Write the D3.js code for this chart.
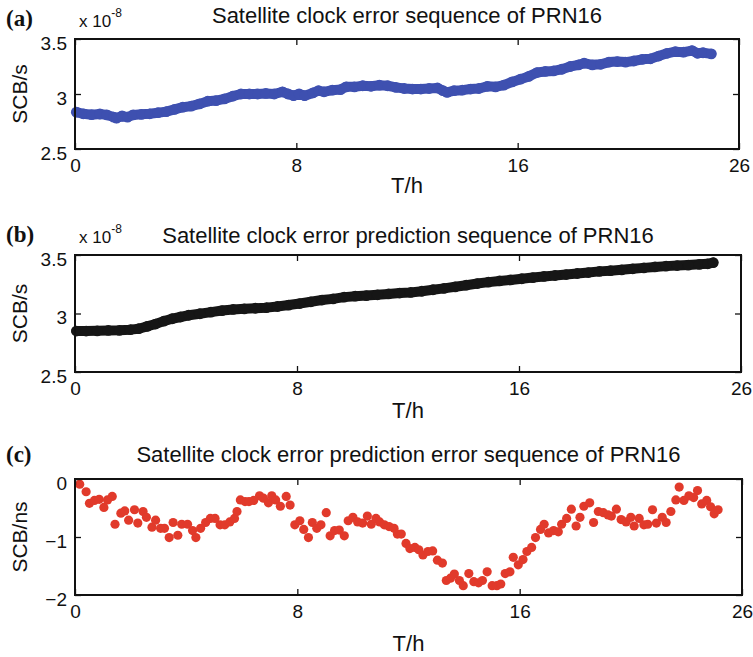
<!DOCTYPE html>
<html>
<head>
<meta charset="utf-8">
<script src="https://cdn.jsdelivr.net/npm/d3@7"></script>
<style>
  body { margin: 0; background: #fff; }
  svg { display: block; }
  text { font-family: "Liberation Sans", Arial, sans-serif; fill: #111; }
</style>
</head>
<body>
<svg id="chart" width="753" height="657"></svg>
<script>
// x axis: hours, the last tick is labelled 26 in the original figure
var xTicks = [0, 8, 16, 24];
var xTickLabels = ["0", "8", "16", "26"];

// (a) satellite clock error, units of 1e-8 s
var clockTimes = [0.05, 0.3, 0.6, 0.9, 1.15, 1.4, 1.5, 1.7, 1.9, 2.1, 2.4, 2.7, 3.0, 3.3, 3.6, 3.9,
  4.2, 4.5, 4.8, 5.1, 5.4, 5.7, 6.0, 6.3, 6.6, 6.9, 7.2, 7.5, 7.7, 7.9, 8.1, 8.3, 8.6, 8.8, 9.0,
  9.3, 9.6, 9.8, 10.1, 10.4, 10.7, 11.0, 11.3, 11.6, 11.9, 12.2, 12.5, 12.8, 13.1, 13.3, 13.45,
  13.7, 14.0, 14.3, 14.6, 14.9, 15.2, 15.5, 15.8, 16.1, 16.4, 16.7, 17.0, 17.3, 17.6, 17.9, 18.2,
  18.4, 18.7, 19.0, 19.3, 19.6, 19.9, 20.2, 20.5, 20.8, 21.1, 21.4, 21.7, 22.0, 22.3, 22.5, 22.7, 23.0];
var clockValues = [2.835, 2.82, 2.812, 2.818, 2.81, 2.79, 2.78, 2.80, 2.79, 2.81, 2.815, 2.82, 2.83,
  2.84, 2.86, 2.88, 2.89, 2.91, 2.935, 2.94, 2.955, 2.98, 3.0, 3.0, 3.0, 3.005, 3.0, 3.02, 3.0, 2.985,
  3.0, 2.985, 3.01, 3.03, 3.02, 3.035, 3.04, 3.065, 3.065, 3.075, 3.07, 3.08, 3.075, 3.06, 3.05,
  3.045, 3.045, 3.05, 3.055, 3.03, 3.015, 3.03, 3.035, 3.045, 3.05, 3.07, 3.065, 3.08, 3.11, 3.135,
  3.16, 3.195, 3.205, 3.21, 3.225, 3.25, 3.265, 3.28, 3.265, 3.27, 3.29, 3.295, 3.29, 3.30, 3.315,
  3.32, 3.345, 3.37, 3.385, 3.38, 3.395, 3.37, 3.375, 3.365];

// (b) predicted clock error, units of 1e-8 s
var predTimes = [0.05, 0.4, 0.8, 1.2, 1.6, 2.0, 2.3, 2.6, 2.9, 3.2, 3.5, 3.8, 4.1, 4.5, 4.9, 5.3, 5.7,
  6.1, 6.5, 6.9, 7.3, 7.7, 8.1, 8.5, 8.9, 9.3, 9.7, 10.1, 10.5, 10.9, 11.3, 11.7, 12.1, 12.5, 12.9,
  13.3, 13.7, 14.1, 14.5, 14.9, 15.3, 15.7, 16.1, 16.5, 16.9, 17.3, 17.7, 18.1, 18.5, 18.9, 19.3,
  19.7, 20.1, 20.5, 20.9, 21.3, 21.7, 22.1, 22.5, 22.8, 23.0];
var predValues = [2.85, 2.85, 2.852, 2.855, 2.856, 2.862, 2.87, 2.89, 2.91, 2.935, 2.955, 2.97, 2.985,
  2.998, 3.012, 3.025, 3.035, 3.04, 3.045, 3.05, 3.06, 3.072, 3.085, 3.10, 3.115, 3.125, 3.14, 3.148,
  3.153, 3.16, 3.167, 3.175, 3.18, 3.19, 3.203, 3.215, 3.228, 3.242, 3.256, 3.268, 3.278, 3.287,
  3.297, 3.307, 3.317, 3.325, 3.333, 3.342, 3.35, 3.36, 3.366, 3.373, 3.382, 3.39, 3.398, 3.405,
  3.41, 3.414, 3.42, 3.425, 3.435];

// (c) prediction error, ns
var errTimes = [0.17, 0.40, 0.52, 0.70, 0.87, 1.04, 1.17, 1.34, 1.44, 1.65, 1.79, 1.93, 2.14, 2.26,
  2.45, 2.57, 2.77, 2.90, 3.08, 3.22, 3.39, 3.53, 3.70, 3.84, 4.05, 4.23, 4.35, 4.52, 4.70, 4.87,
  5.04, 5.22, 5.39, 5.57, 5.74, 5.83, 5.95, 6.12, 6.26, 6.43, 6.64, 6.78, 6.96, 7.08, 7.22, 7.39,
  7.60, 7.74, 7.91, 8.09, 8.23, 8.40, 8.54, 8.70, 8.85, 9.04, 9.18, 9.34, 9.51, 9.69, 9.83, 10.00,
  10.17, 10.35, 10.52, 10.66, 10.83, 10.96, 11.13, 11.30, 11.48, 11.60, 11.74, 11.91, 12.05, 12.23,
  12.37, 12.52, 12.70, 12.87, 13.04, 13.22, 13.36, 13.51, 13.65, 13.83, 13.97, 14.17, 14.35, 14.52,
  14.66, 14.83, 15.01, 15.18, 15.32, 15.48, 15.65, 15.77, 15.95, 16.12, 16.26, 16.43, 16.57, 16.75,
  16.88, 17.04, 17.22, 17.39, 17.51, 17.69, 17.86, 18.03, 18.17, 18.31, 18.52, 18.66, 18.83, 19.01,
  19.18, 19.30, 19.48, 19.65, 19.83, 20.00, 20.12, 20.30, 20.47, 20.61, 20.78, 20.92, 21.13, 21.27,
  21.44, 21.62, 21.74, 21.91, 22.09, 22.26, 22.40, 22.55, 22.73, 22.87, 23.00, 23.14];
var errValues = [-0.09, -0.22, -0.42, -0.37, -0.35, -0.49, -0.36, -0.30, -0.78, -0.59, -0.55, -0.71,
  -0.53, -0.76, -0.56, -0.66, -0.83, -0.71, -0.85, -0.85, -1.01, -0.75, -0.97, -0.78, -0.78, -0.89,
  -1.01, -0.85, -0.75, -0.68, -0.68, -0.79, -0.79, -0.74, -0.68, -0.56, -0.36, -0.39, -0.39, -0.37,
  -0.29, -0.33, -0.41, -0.29, -0.36, -0.47, -0.30, -0.45, -0.79, -0.72, -0.87, -1.01, -0.75, -0.85,
  -0.79, -0.58, -0.98, -0.89, -0.88, -0.98, -0.72, -0.66, -0.74, -0.76, -0.64, -0.78, -0.68, -0.74,
  -0.79, -0.82, -0.85, -0.95, -0.95, -1.11, -1.20, -1.18, -1.22, -1.31, -1.25, -1.24, -1.40, -1.45,
  -1.75, -1.71, -1.64, -1.75, -1.84, -1.63, -1.77, -1.79, -1.75, -1.60, -1.84, -1.84, -1.81, -1.63,
  -1.60, -1.35, -1.48, -1.39, -1.25, -1.18, -1.01, -0.87, -0.78, -0.93, -0.89, -0.91, -0.78, -0.68,
  -0.52, -0.81, -0.66, -0.47, -0.41, -0.75, -0.56, -0.58, -0.62, -0.64, -0.52, -0.70, -0.74, -0.66,
  -0.81, -0.68, -0.79, -0.78, -0.53, -0.76, -0.66, -0.75, -0.56, -0.36, -0.14, -0.37, -0.29, -0.32,
  -0.20, -0.43, -0.37, -0.48, -0.60, -0.53];

var svg = d3.select("#chart");

var panels = [
  { tag: "(a)", title: "Satellite clock error sequence of PRN16", ylab: "SCB/s", exp: true,
    times: clockTimes, values: clockValues, color: "#3e50b0", style: "band",
    yDomain: [2.5, 3.5], yTicks: [2.5, 3, 3.5], box: [75, 739, 39, 149],
    titleY: 23, tagY: 26, expY: 27, xlabY: 193 },
  { tag: "(b)", title: "Satellite clock error prediction sequence of PRN16", ylab: "SCB/s", exp: true,
    times: predTimes, values: predValues, color: "#161616", style: "band",
    yDomain: [2.5, 3.5], yTicks: [2.5, 3, 3.5], box: [75, 741, 255, 372],
    titleY: 243, tagY: 242, expY: 243, xlabY: 418 },
  { tag: "(c)", title: "Satellite clock error prediction error sequence of PRN16", ylab: "SCB/ns", exp: false,
    times: errTimes, values: errValues, color: "#e13a2b", style: "dots",
    yDomain: [-2, 0], yTicks: [-2, -1, 0], box: [75, 742, 479, 595],
    titleY: 462, tagY: 462, expY: 0, xlabY: 651 }
];

panels.forEach(drawPanel);

function drawPanel(p) {
  var left = p.box[0], right = p.box[1], top = p.box[2], bottom = p.box[3];
  var x = d3.scaleLinear().domain([0, 24]).range([left, right]);
  var y = d3.scaleLinear().domain(p.yDomain).range([bottom, top]);
  var pts = p.times.map(function(t, i) { return [t, p.values[i]]; });
  var g = svg.append("g");

  // data
  if (p.style === "band") {
    var line = d3.line()
      .x(function(d) { return x(d[0]); })
      .y(function(d) { return y(d[1]); });
    g.append("path")
      .datum(pts)
      .attr("d", line)
      .attr("fill", "none")
      .attr("stroke", p.color)
      .attr("stroke-width", 10)
      .attr("stroke-linejoin", "round")
      .attr("stroke-linecap", "round");
    g.selectAll("circle.m")
      .data(pts)
      .enter()
      .append("circle")
      .attr("class", "m")
      .attr("cx", function(d) { return x(d[0]); })
      .attr("cy", function(d) { return y(d[1]); })
      .attr("r", 5.4)
      .attr("fill", p.color);
  } else {
    g.selectAll("circle.m")
      .data(pts)
      .enter()
      .append("circle")
      .attr("class", "m")
      .attr("cx", function(d) { return x(d[0]); })
      .attr("cy", function(d) { return y(d[1]); })
      .attr("r", 4.6)
      .attr("fill", p.color);
  }

  // axes, ticks pointing inwards like matlab
  var fmtX = function(d, i) { return xTickLabels[i]; };
  g.append("g")
    .attr("transform", "translate(0," + bottom + ")")
    .call(d3.axisBottom(x).tickValues(xTicks).tickFormat(fmtX).tickSizeInner(-6).tickSizeOuter(0).tickPadding(10));
  g.append("g")
    .attr("transform", "translate(0," + top + ")")
    .call(d3.axisTop(x).tickValues(xTicks).tickFormat("").tickSizeInner(-6).tickSizeOuter(0));
  var leftAxis = g.append("g")
    .attr("transform", "translate(" + left + ",0)")
    .call(d3.axisLeft(y).tickValues(p.yTicks).tickFormat(d3.format("")).tickSizeInner(-6).tickSizeOuter(0).tickPadding(8));
  g.append("g")
    .attr("transform", "translate(" + right + ",0)")
    .call(d3.axisRight(y).tickValues(p.yTicks).tickFormat("").tickSizeInner(-6).tickSizeOuter(0));

  g.selectAll(".domain").remove();
  g.selectAll(".tick line").attr("stroke", "#111").attr("stroke-width", 1.3);
  g.selectAll(".tick text").style("font-size", "19px").attr("fill", "#111");
  leftAxis.selectAll(".tick text").attr("dy", "0.55em");

  g.append("rect")
    .attr("x", left).attr("y", top)
    .attr("width", right - left).attr("height", bottom - top)
    .attr("fill", "none").attr("stroke", "#111").attr("stroke-width", 2);

  // labels
  g.append("text")
    .attr("x", (left + right) / 2).attr("y", p.titleY)
    .attr("text-anchor", "middle")
    .style("font-size", "22px")
    .text(p.title);
  g.append("text")
    .attr("x", 6).attr("y", p.tagY)
    .style("font-family", "'Liberation Serif', 'Times New Roman', serif")
    .style("font-weight", "bold")
    .style("font-size", "23px")
    .text(p.tag);
  if (p.exp) {
    var e = g.append("text")
      .attr("x", 79).attr("y", p.expY)
      .style("font-size", "17px");
    e.append("tspan").text("x 10");
    e.append("tspan").attr("dy", -10).style("font-size", "12px").text("-8");
  }
  g.append("text")
    .attr("transform", "translate(" + 27 + "," + ((top + bottom) / 2) + ") rotate(-90)")
    .attr("text-anchor", "middle")
    .style("font-size", "21px")
    .text(p.ylab);
  g.append("text")
    .attr("x", (left + right) / 2).attr("y", p.xlabY)
    .attr("text-anchor", "middle")
    .style("font-size", "22px")
    .text("T/h");
}
</script>
</body>
</html>
